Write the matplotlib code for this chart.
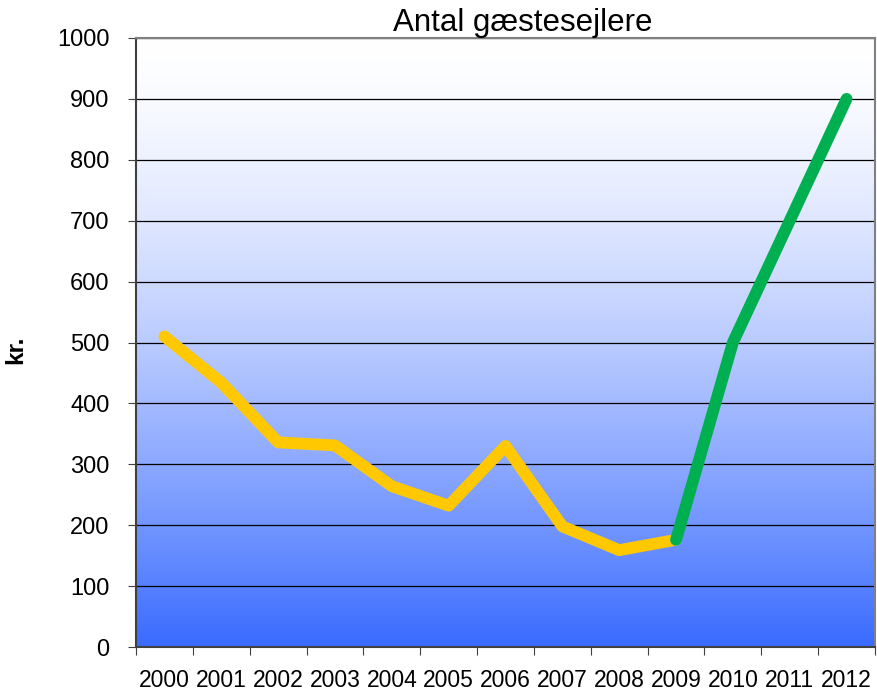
import numpy as np
import matplotlib
matplotlib.use("Agg")
import matplotlib.pyplot as plt

years = ["2000", "2001", "2002", "2003", "2004", "2005", "2006",
         "2007", "2008", "2009", "2010", "2011", "2012"]
past_values = [510, 434, 336, 331, 264, 232, 330, 198, 159, 176]
future_values = [176, 500, 700, 900]
title = "Antal gæstesejlere"
ylabel = "kr."

plt.rcParams['font.family'] = ['Liberation Sans', 'DejaVu Sans']

fig = plt.figure(figsize=(8.77, 6.95), dpi=100)
ax = fig.add_axes([136/877, 1-647/695, (875-136)/877, (647-38)/695])

# gradient background
t = np.linspace(0, 1, 256) ** 1.5
top = np.array([1.0, 1.0, 1.0])
bot = np.array([58/255, 107/255, 1.0])
grad = top[None, :] * (1 - t[:, None]) + bot[None, :] * t[:, None]
ax.imshow(grad[:, None, :], aspect='auto', extent=[-0.5, 12.5, 0, 1000],
          origin='upper', zorder=0, interpolation='bicubic')

x_past = np.arange(len(past_values))
x_future = np.arange(len(past_values) - 1, len(past_values) - 1 + len(future_values))
ax.plot(x_past, past_values, color='#FFC800', lw=8.5, solid_joinstyle='round',
        solid_capstyle='round', zorder=3)
ax.plot(x_future, future_values, color='#00B050', lw=8.5, solid_joinstyle='round',
        solid_capstyle='round', zorder=4)

ax.set_xlim(-0.5, 12.5)
ax.set_ylim(0, 1000)
ax.set_yticks(np.arange(0, 1001, 100))
ax.yaxis.grid(True, color='black', lw=0.9, zorder=1)
for line in ax.get_ygridlines():
    line.set_zorder(1)

ax.set_xticks(np.arange(-0.5, 12.6, 1))
ax.set_xticklabels([])
ax.set_xticks(np.arange(13), minor=True)
ax.set_xticklabels(years, minor=True, fontsize=16.5)
ax.tick_params(axis='x', which='minor', length=0, pad=16)
ax.tick_params(axis='x', which='major', length=6, color='#404040')
ax.tick_params(axis='y', length=6, labelsize=17, color='#404040', pad=13)

for s in ['left', 'bottom']:
    ax.spines[s].set_color('#404040')
    ax.spines[s].set_linewidth(1.5)
for s in ['top', 'right']:
    ax.spines[s].set_color('#808080')
    ax.spines[s].set_linewidth(1.5)

ax.set_title(title, fontsize=22.5, pad=4, x=(523-136)/739)
ax.set_ylabel(ylabel, fontsize=17.5, fontweight='bold')
ax.yaxis.set_label_coords((27-136)/739, 0.488)

fig.savefig("out.png", dpi=100)
